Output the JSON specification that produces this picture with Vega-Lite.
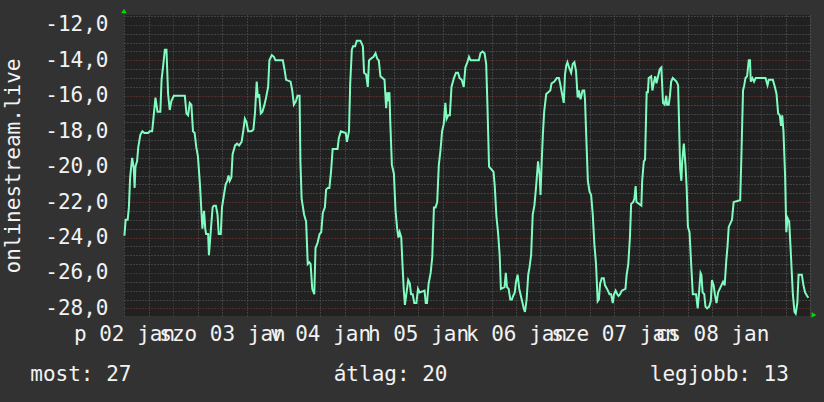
{
  "$schema": "https://vega.github.io/schema/vega-lite/v6.json",
  "autosize": "none",
  "width": 686,
  "height": 301,
  "padding": {"left": 124, "top": 15, "right": 14, "bottom": 86},
  "background": "#323232",
  "config": {
    "view": {"fill": "#212121", "stroke": null},
    "locale": {"number": {"decimal": ",", "thousands": " ", "grouping": [3], "currency": ["", ""], "minus": "-"}},
    "axis": {"labelFont": "DejaVu Sans Mono", "titleFont": "DejaVu Sans Mono", "labelColor": "#f2f2f2", "titleColor": "#f2f2f2", "labelFontSize": 21, "titleFontSize": 21, "titleFontWeight": "normal", "domain": false, "ticks": false}
  },
  "title": {
    "text": "most: 27\u00a0\u00a0\u00a0\u00a0\u00a0\u00a0\u00a0\u00a0\u00a0\u00a0\u00a0\u00a0\u00a0\u00a0\u00a0\u00a0átlag: 20\u00a0\u00a0\u00a0\u00a0\u00a0\u00a0\u00a0\u00a0\u00a0\u00a0\u00a0\u00a0\u00a0\u00a0\u00a0\u00a0legjobb: 13",
    "orient": "bottom",
    "anchor": "middle",
    "frame": "bounds",
    "font": "DejaVu Sans Mono",
    "fontSize": 21,
    "fontWeight": "normal",
    "color": "#f2f2f2",
    "offset": 20
  },
  "data": {"values": [
    {"h":0.1,"v":-23.9},{"h":0.4,"v":-23.0},{"h":0.9,"v":-23.0},{"h":1.2,"v":-22.3},{"h":1.5,"v":-20.6},{"h":2.0,"v":-19.5},{"h":2.4,"v":-20.1},{"h":2.6,"v":-21.2},{"h":2.8,"v":-20.0},{"h":3.2,"v":-19.7},{"h":3.5,"v":-18.9},{"h":4.0,"v":-18.2},{"h":4.5,"v":-18.0},{"h":5.0,"v":-18.1},{"h":5.9,"v":-18.1},{"h":6.3,"v":-18.0},{"h":6.9,"v":-18.0},{"h":7.2,"v":-17.3},{"h":7.7,"v":-16.1},{"h":8.2,"v":-16.9},{"h":8.9,"v":-16.9},{"h":9.2,"v":-15.1},{"h":9.6,"v":-14.3},{"h":10.0,"v":-13.4},{"h":10.4,"v":-13.4},{"h":10.8,"v":-15.9},{"h":11.2,"v":-16.8},{"h":11.6,"v":-16.3},{"h":12.2,"v":-16.0},{"h":14.9,"v":-16.0},{"h":15.3,"v":-17.0},{"h":15.7,"v":-17.1},{"h":16.1,"v":-16.4},{"h":16.5,"v":-16.5},{"h":16.9,"v":-18.0},{"h":17.3,"v":-18.1},{"h":17.7,"v":-18.9},{"h":18.1,"v":-19.4},{"h":18.6,"v":-21.0},{"h":19.0,"v":-22.7},{"h":19.2,"v":-23.5},{"h":19.6,"v":-22.5},{"h":19.9,"v":-23.5},{"h":20.1,"v":-23.8},{"h":20.6,"v":-23.8},{"h":20.8,"v":-25.0},{"h":21.2,"v":-23.8},{"h":21.7,"v":-22.3},{"h":22.0,"v":-22.2},{"h":22.5,"v":-22.2},{"h":22.9,"v":-22.7},{"h":23.2,"v":-23.8},{"h":23.7,"v":-23.8},{"h":24.0,"v":-22.3},{"h":24.4,"v":-21.7},{"h":24.9,"v":-21.0},{"h":25.3,"v":-20.8},{"h":25.6,"v":-20.5},{"h":25.9,"v":-20.8},{"h":26.3,"v":-20.6},{"h":26.6,"v":-19.3},{"h":27.2,"v":-18.8},{"h":27.7,"v":-18.7},{"h":28.2,"v":-18.8},{"h":28.8,"v":-18.6},{"h":29.2,"v":-18.0},{"h":29.6,"v":-17.3},{"h":30.0,"v":-17.5},{"h":30.4,"v":-18.0},{"h":31.2,"v":-18.0},{"h":31.7,"v":-17.9},{"h":32.1,"v":-16.9},{"h":32.5,"v":-15.2},{"h":32.8,"v":-16.1},{"h":33.1,"v":-15.9},{"h":33.5,"v":-17.0},{"h":33.9,"v":-16.9},{"h":34.4,"v":-16.5},{"h":34.8,"v":-16.1},{"h":35.3,"v":-15.5},{"h":35.6,"v":-14.0},{"h":36.2,"v":-13.7},{"h":36.7,"v":-13.8},{"h":37.1,"v":-14.0},{"h":38.9,"v":-14.0},{"h":39.3,"v":-14.5},{"h":39.7,"v":-15.1},{"h":40.8,"v":-15.2},{"h":41.2,"v":-15.7},{"h":41.6,"v":-16.5},{"h":42.1,"v":-16.3},{"h":42.5,"v":-16.0},{"h":43.0,"v":-16.0},{"h":43.2,"v":-19.7},{"h":43.5,"v":-21.8},{"h":44.1,"v":-22.7},{"h":44.6,"v":-23.1},{"h":45.0,"v":-25.5},{"h":45.4,"v":-25.4},{"h":45.7,"v":-25.5},{"h":46.1,"v":-26.9},{"h":46.6,"v":-27.2},{"h":46.9,"v":-24.6},{"h":47.4,"v":-24.3},{"h":47.9,"v":-23.8},{"h":48.3,"v":-23.7},{"h":48.7,"v":-22.6},{"h":49.2,"v":-22.3},{"h":49.5,"v":-21.3},{"h":49.9,"v":-21.2},{"h":50.3,"v":-21.2},{"h":50.7,"v":-20.3},{"h":51.1,"v":-19.0},{"h":52.3,"v":-19.0},{"h":52.6,"v":-18.4},{"h":53.1,"v":-18.0},{"h":54.3,"v":-18.1},{"h":54.6,"v":-18.6},{"h":55.1,"v":-18.0},{"h":55.4,"v":-15.3},{"h":55.8,"v":-13.4},
    {"h":56.1,"v":-13.2},{"h":56.6,"v":-13.2},{"h":57.0,"v":-12.9},{"h":57.9,"v":-12.9},{"h":58.5,"v":-13.2},{"h":58.8,"v":-14.7},{"h":59.3,"v":-14.8},{"h":59.7,"v":-15.5},{"h":60.0,"v":-14.0},{"h":60.5,"v":-13.9},{"h":61.1,"v":-13.8},{"h":61.6,"v":-13.6},{"h":62.0,"v":-13.9},{"h":62.4,"v":-14.0},{"h":62.8,"v":-14.9},{"h":63.8,"v":-15.1},{"h":64.2,"v":-16.7},{"h":64.5,"v":-15.8},{"h":64.7,"v":-16.3},{"h":65.0,"v":-15.8},{"h":65.2,"v":-17.4},{"h":65.6,"v":-19.9},{"h":66.1,"v":-20.4},{"h":66.5,"v":-22.5},{"h":66.9,"v":-23.5},{"h":67.2,"v":-24.0},{"h":67.5,"v":-23.7},{"h":67.9,"v":-24.0},{"h":68.2,"v":-25.5},{"h":68.5,"v":-26.9},{"h":68.8,"v":-27.8},{"h":69.2,"v":-27.1},{"h":69.6,"v":-26.4},{"h":70.0,"v":-26.6},{"h":70.3,"v":-27.2},{"h":70.7,"v":-27.2},{"h":71.1,"v":-27.7},{"h":71.6,"v":-27.7},{"h":72.0,"v":-26.9},{"h":72.4,"v":-27.1},{"h":73.6,"v":-27.0},{"h":73.9,"v":-27.7},{"h":74.2,"v":-27.7},{"h":74.6,"v":-26.6},{"h":75.1,"v":-26.0},{"h":75.5,"v":-25.1},{"h":75.9,"v":-22.3},{"h":76.3,"v":-22.3},{"h":76.7,"v":-22.0},{"h":77.1,"v":-19.9},{"h":77.5,"v":-19.1},{"h":77.9,"v":-18.0},{"h":78.3,"v":-17.6},{"h":78.7,"v":-16.4},{"h":79.0,"v":-17.3},{"h":79.4,"v":-17.1},{"h":79.8,"v":-17.1},{"h":80.2,"v":-15.5},{"h":80.8,"v":-15.0},{"h":81.3,"v":-14.7},{"h":81.8,"v":-14.7},{"h":82.2,"v":-15.0},{"h":82.7,"v":-15.1},{"h":83.2,"v":-15.5},{"h":83.6,"v":-14.4},{"h":84.1,"v":-14.1},{"h":84.5,"v":-13.8},{"h":84.9,"v":-14.0},{"h":86.9,"v":-14.0},{"h":87.3,"v":-13.6},{"h":87.8,"v":-13.5},{"h":88.3,"v":-13.6},{"h":88.7,"v":-14.2},{"h":89.0,"v":-16.5},{"h":89.4,"v":-20.0},{"h":90.5,"v":-20.3},{"h":90.8,"v":-21.1},{"h":91.2,"v":-22.8},{"h":91.6,"v":-23.7},{"h":92.0,"v":-25.0},{"h":92.3,"v":-26.9},{"h":93.2,"v":-26.8},{"h":93.5,"v":-26.0},{"h":93.8,"v":-26.8},{"h":94.2,"v":-26.9},{"h":94.6,"v":-27.5},{"h":95.0,"v":-27.5},{"h":95.3,"v":-27.3},{"h":95.7,"v":-27.1},{"h":96.0,"v":-26.5},{"h":96.4,"v":-26.1},{"h":96.8,"v":-26.9},{"h":97.1,"v":-27.2},{"h":97.5,"v":-27.6},{"h":97.9,"v":-28.0},{"h":98.2,"v":-28.2},{"h":98.6,"v":-27.5},{"h":99.0,"v":-26.1},{"h":99.3,"v":-25.7},{"h":99.7,"v":-25.0},{"h":100.1,"v":-22.7},{"h":100.5,"v":-22.2},{"h":100.9,"v":-21.2},{"h":101.1,"v":-20.6},{"h":101.4,"v":-19.7},{"h":101.8,"v":-20.5},{"h":102.0,"v":-21.6},{"h":102.3,"v":-19.7},{"h":102.6,"v":-18.1},{"h":102.9,"v":-16.9},{"h":103.4,"v":-15.9},{"h":104.4,"v":-15.7},{"h":104.7,"v":-15.3},{"h":105.4,"v":-15.2},{"h":106.0,"v":-15.0},{"h":106.5,"v":-15.0},{"h":106.8,"v":-15.3},{"h":107.2,"v":-15.8},{"h":107.7,"v":-16.4},{"h":108.0,"v":-14.8},{"h":108.3,"v":-14.3},{"h":108.6,"v":-14.1},{"h":109.0,"v":-14.4},{"h":109.5,"v":-14.7},{"h":109.9,"v":-14.2},{"h":110.3,"v":-14.1},{"h":110.7,"v":-14.6},{"h":111.1,"v":-16.1},{"h":111.4,"v":-15.7},{"h":111.8,"v":-16.2},
    {"h":112.3,"v":-15.7},{"h":112.7,"v":-15.7},{"h":112.9,"v":-16.2},{"h":113.1,"v":-17.6},{"h":113.6,"v":-20.8},{"h":114.0,"v":-21.4},{"h":114.4,"v":-21.6},{"h":114.8,"v":-22.7},{"h":115.2,"v":-24.4},{"h":115.6,"v":-25.5},{"h":116.0,"v":-27.6},{"h":116.3,"v":-27.5},{"h":116.6,"v":-26.6},{"h":117.0,"v":-26.3},{"h":117.5,"v":-26.3},{"h":117.8,"v":-26.7},{"h":118.3,"v":-26.9},{"h":118.9,"v":-27.2},{"h":119.3,"v":-27.2},{"h":119.7,"v":-27.7},{"h":120.0,"v":-27.2},{"h":120.4,"v":-27.0},{"h":120.8,"v":-27.2},{"h":121.1,"v":-27.3},{"h":121.5,"v":-27.2},{"h":121.9,"v":-27.0},{"h":122.8,"v":-26.9},{"h":123.1,"v":-26.1},{"h":123.5,"v":-25.5},{"h":123.9,"v":-24.0},{"h":124.2,"v":-22.1},{"h":124.7,"v":-22.0},{"h":125.0,"v":-21.8},{"h":125.3,"v":-21.1},{"h":125.5,"v":-22.0},{"h":126.7,"v":-22.2},{"h":126.9,"v":-20.8},{"h":127.3,"v":-19.7},{"h":127.6,"v":-19.6},{"h":128.0,"v":-15.8},{"h":128.3,"v":-15.8},{"h":128.5,"v":-15.0},{"h":129.1,"v":-14.9},{"h":129.4,"v":-15.7},{"h":129.8,"v":-15.2},{"h":130.1,"v":-14.9},{"h":130.4,"v":-15.3},{"h":130.8,"v":-14.9},{"h":131.2,"v":-14.5},{"h":131.6,"v":-14.4},{"h":132.0,"v":-16.4},{"h":132.4,"v":-16.5},{"h":132.8,"v":-16.0},{"h":133.0,"v":-16.5},{"h":133.4,"v":-16.5},{"h":133.7,"v":-16.0},{"h":134.0,"v":-15.2},{"h":134.4,"v":-15.0},{"h":135.3,"v":-15.2},{"h":135.7,"v":-15.4},{"h":135.9,"v":-17.2},{"h":136.2,"v":-20.1},{"h":136.5,"v":-20.8},{"h":136.7,"v":-19.7},{"h":137.1,"v":-18.7},{"h":137.5,"v":-19.9},{"h":137.8,"v":-21.2},{"h":138.1,"v":-23.4},{"h":138.5,"v":-23.7},{"h":138.9,"v":-25.5},{"h":139.3,"v":-27.2},{"h":140.1,"v":-27.2},{"h":140.5,"v":-28.0},{"h":140.8,"v":-27.2},{"h":141.2,"v":-26.0},{"h":141.4,"v":-26.1},{"h":141.7,"v":-27.1},{"h":142.1,"v":-27.2},{"h":142.4,"v":-27.9},{"h":142.8,"v":-28.0},{"h":143.3,"v":-27.9},{"h":143.7,"v":-27.6},{"h":144.0,"v":-26.4},{"h":144.4,"v":-26.7},{"h":144.7,"v":-27.2},{"h":145.1,"v":-27.7},{"h":145.5,"v":-27.1},{"h":145.9,"v":-26.9},{"h":146.3,"v":-26.7},{"h":146.7,"v":-26.5},{"h":147.1,"v":-26.7},{"h":147.5,"v":-25.3},{"h":147.8,"v":-24.5},{"h":148.1,"v":-23.4},{"h":148.9,"v":-23.0},{"h":149.3,"v":-22.0},{"h":150.9,"v":-21.9},{"h":151.2,"v":-19.4},{"h":151.6,"v":-15.7},{"h":151.9,"v":-15.4},{"h":152.2,"v":-15.0},{"h":152.6,"v":-14.9},{"h":153.0,"v":-14.0},{"h":153.3,"v":-14.0},{"h":153.5,"v":-15.2},{"h":153.9,"v":-15.0},{"h":154.3,"v":-15.2},{"h":154.7,"v":-15.0},{"h":157.1,"v":-15.0},{"h":157.6,"v":-15.4},{"h":157.9,"v":-15.1},{"h":158.9,"v":-15.1},{"h":159.4,"v":-15.5},{"h":159.8,"v":-15.9},{"h":160.2,"v":-17.0},{"h":160.6,"v":-17.1},{"h":160.9,"v":-17.7},{"h":161.2,"v":-17.1},{"h":161.5,"v":-18.0},{"h":161.9,"v":-20.5},{"h":162.2,"v":-23.7},{"h":162.5,"v":-22.9},{"h":162.9,"v":-23.1},{"h":163.2,"v":-24.4},{"h":163.5,"v":-25.8},{"h":163.8,"v":-27.2},{"h":164.2,"v":-28.2},{"h":164.5,"v":-28.3},{"h":164.9,"v":-27.7},{"h":165.2,"v":-26.1},{"h":166.0,"v":-26.1},{"h":166.4,"v":-26.7},{"h":166.8,"v":-27.1},{"h":167.3,"v":-27.3},{"h":167.6,"v":-27.4}
  ]},
  "resolve": {"axis": {"x": "independent", "y": "independent"}},
  "layer": [
    {
      "mark": {"type": "line", "opacity": 0},
      "encoding": {
        "x": {"field": "h", "type": "quantitative", "scale": {"domain": [0, 168], "nice": false, "zero": false},
              "axis": {"orient": "bottom", "values": [0,6,18,24,30,42,48,54,66,72,78,90,96,102,114,120,126,138,144,150,162,168], "labels": false, "title": null, "grid": true, "gridColor": "#626262", "gridDash": [1, 2], "gridWidth": 1}},
        "y": {"field": "v", "type": "quantitative", "scale": {"domain": [-28.43, -11.44], "nice": false, "zero": false},
              "axis": {"orient": "left", "values": [-27.5,-27,-26.5,-25.5,-25,-24.5,-23.5,-23,-22.5,-21.5,-21,-20.5,-19.5,-19,-18.5,-17.5,-17,-16.5,-15.5,-15,-14.5,-13.5,-13,-12.5,-11.5], "labels": false, "title": null, "grid": true, "gridColor": "#626262", "gridDash": [1, 2], "gridWidth": 1}}
      }
    },
    {
      "mark": {"type": "line", "opacity": 0},
      "encoding": {
        "x": {"field": "h", "type": "quantitative",
              "axis": {"orient": "bottom", "values": [12,36,60,84,108,132,156], "labels": false, "title": null, "grid": true, "gridColor": "#803a3a", "gridDash": [1, 2], "gridWidth": 1}},
        "y": {"field": "v", "type": "quantitative",
              "axis": {"orient": "left", "values": [-28,-26,-24,-22,-20,-18,-16,-14,-12], "format": ".1f", "title": "onlinestream.live", "titlePadding": 21, "labelPadding": 16, "grid": true, "gridColor": "#803a3a", "gridDash": [1, 2], "gridWidth": 1}}
      }
    },
    {
      "mark": {"type": "line", "stroke": "#80fcc0", "strokeWidth": 2},
      "encoding": {
        "x": {"field": "h", "type": "quantitative",
              "axis": {"orient": "bottom", "values": [0,24,48,72,96,120,144], "labelExpr": "['p 02 jan','szo 03 jan','v 04 jan','h 05 jan','k 06 jan','sze 07 jan','cs 08 jan'][round(datum.value/24)]", "labelOverlap": false, "labelFlush": false, "labelBound": false, "labelPadding": 7, "grid": false, "title": null}},
        "y": {"field": "v", "type": "quantitative", "axis": null}
      }
    },
    {
      "data": {"values": [{}]},
      "mark": {"type": "point", "shape": "triangle-up", "filled": true, "color": "#00dd00", "size": 30, "opacity": 1, "yOffset": -4},
      "encoding": {
        "x": {"datum": 0, "type": "quantitative", "axis": null},
        "y": {"datum": -11.44, "type": "quantitative", "axis": null}
      }
    },
    {
      "data": {"values": [{}]},
      "mark": {"type": "point", "shape": "triangle-right", "filled": true, "color": "#00dd00", "size": 30, "opacity": 1, "xOffset": 4, "yOffset": -1},
      "encoding": {
        "x": {"datum": 168, "type": "quantitative", "axis": null},
        "y": {"datum": -28.43, "type": "quantitative", "axis": null}
      }
    }
  ]
}
